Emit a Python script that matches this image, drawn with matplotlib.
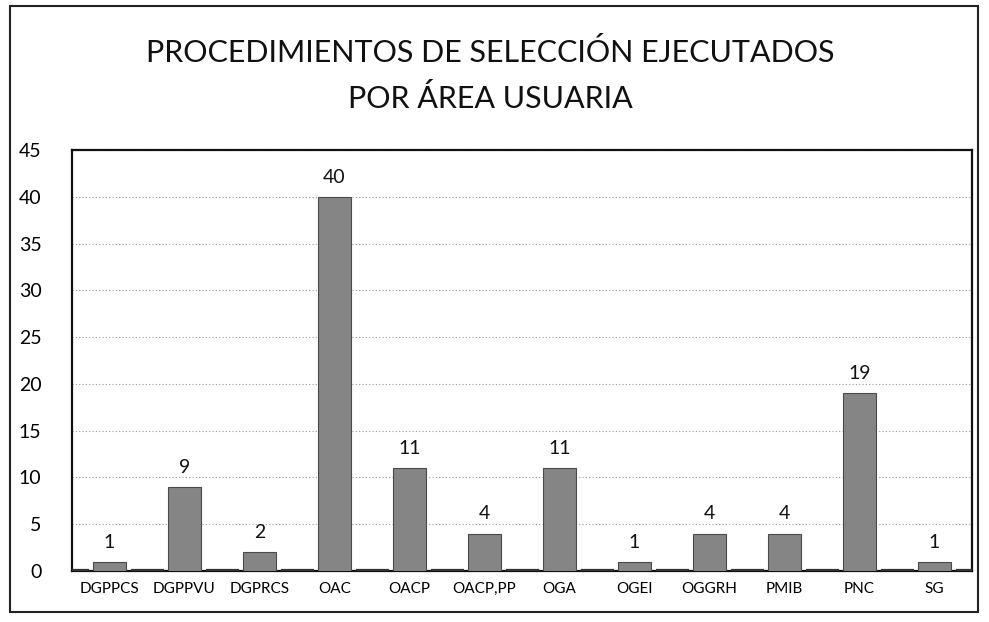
import matplotlib
matplotlib.use("Agg")
import matplotlib.pyplot as plt
from matplotlib.patches import Rectangle
import numpy as np

categories = ["DGPPCS", "DGPPVU", "DGPRCS", "OAC", "OACP", "OACP,PP", "OGA",
              "OGEI", "OGGRH", "PMIB", "PNC", "SG"]
values = [1, 9, 2, 40, 11, 4, 11, 1, 4, 4, 19, 1]
zero_series = [0] * 13
yticks = [0, 5, 10, 15, 20, 25, 30, 35, 40, 45]

plt.rcParams['font.family'] = ['Lato', 'DejaVu Sans']

fig = plt.figure(figsize=(9.89, 6.22), dpi=100)
ax = fig.add_axes([72/989, 1 - 571/622, 900/989, 421/622])

x = np.arange(len(categories))
ax.bar(x, values, width=0.43, color='#858585', edgecolor='#4a4a4a',
       linewidth=0.8, zorder=3)
zx = np.arange(len(zero_series)) - 0.5
ax.bar(zx, zero_series, width=0.44, bottom=0.15, color='#858585',
       edgecolor='#333333', linewidth=1.6, zorder=3)

for xi, v in zip(x, values):
    ax.annotate(str(v), (xi, v), xytext=(0, 8), textcoords='offset points',
                ha='center', va='bottom', fontsize=14, color='#111111')

ax.set_xlim(-0.5, len(categories) - 0.5)
ax.set_ylim(0, 45)
ax.set_yticks(yticks)
ax.set_yticklabels([str(t) for t in yticks], fontsize=14)
ax.set_xticks(x)
ax.set_xticklabels(categories, fontsize=11)
ax.tick_params(axis='x', length=0, pad=8)
ax.tick_params(axis='y', length=0, pad=22)
ax.yaxis.grid(True, linestyle=(0, (1, 2)), color='#9a9a9a', linewidth=0.8, zorder=0)
for s in ax.spines.values():
    s.set_color('#111111')
    s.set_linewidth(1.6)

fig.text(490/989, 1 - 52/622, "PROCEDIMIENTOS DE SELECCIÓN EJECUTADOS",
         ha='center', va='center', fontsize=22, color='#111111')
fig.text(490/989, 1 - 99/622, "POR ÁREA USUARIA",
         ha='center', va='center', fontsize=22, color='#111111')

fig.patches.append(Rectangle((10/989, 1 - 612/622), 968/989, 606/622,
                             transform=fig.transFigure, fill=False,
                             edgecolor='#222222', linewidth=1.5))

fig.savefig("out.png", dpi=100, facecolor='white')
